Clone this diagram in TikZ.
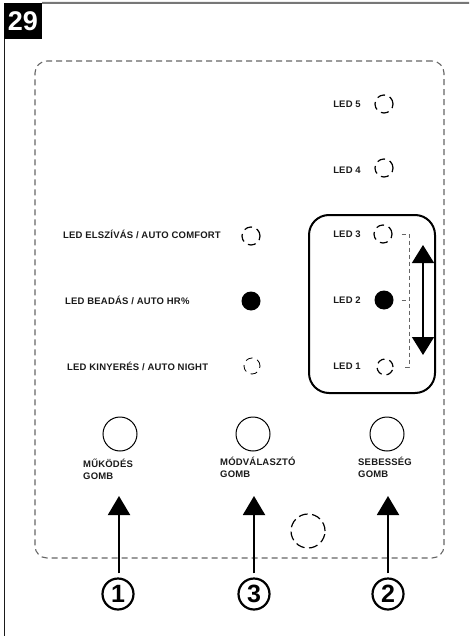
\documentclass[tikz,border=0pt]{standalone}
\usepackage{fontspec}
\setmainfont{Liberation Sans}
\newfontfamily\lblfont{Liberation Sans}[LetterSpace=2]
\usetikzlibrary{arrows.meta}
\definecolor{frameGrey}{HTML}{777777}
\definecolor{dashGrey}{HTML}{666666}
\definecolor{inkGrey}{HTML}{1A1A1A}
\begin{document}
\begin{tikzpicture}[x=1pt,y=-1pt,
  lbl/.style={font=\lblfont\bfseries\fontsize{9.5}{12}\selectfont, inner sep=0pt, text=inkGrey},
  ledoff/.style={draw, circle, line width=1.2pt, dash pattern=on 8pt off 5pt, minimum size=18pt, inner sep=0pt},
  ledthin/.style={draw, circle, line width=0.8pt, dash pattern=on 7pt off 5pt, minimum size=16pt, inner sep=0pt},
  ledon/.style={fill=black, circle, minimum size=19pt, inner sep=0pt},
  button/.style={draw, circle, line width=1pt, minimum size=34pt, inner sep=0pt},
  numcirc/.style={draw, circle, line width=2.2pt, minimum size=31pt, inner sep=0pt, font=\bfseries\fontsize{25}{25}\selectfont},
  uparrow/.style={line width=2pt, -{Triangle[width=22pt,length=19pt]}, shorten <=4pt},
  bracket/.style={dashGrey, line width=0.9pt, dash pattern=on 4pt off 3pt}
]
\useasboundingbox (0,0) rectangle (469,636);

% header
\node[fill=black, minimum width=38pt, minimum height=36pt, inner sep=0pt, text=white,
      font=\bfseries\fontsize{27}{27}\selectfont] (num) at (23,21) {29};
\coordinate (topright) at (469,3);
\coordinate (leftbottom) at (4.5,636);
\draw[frameGrey, line width=2pt] (num.north east) -- (topright);
\draw[inkGrey, line width=1.5pt] (num.south west -| leftbottom) -- (leftbottom);

% dashed panel
\node[draw=dashGrey, dash pattern=on 6pt off 4pt, line width=1.1pt, rounded corners=12pt,
      minimum width=409pt, minimum height=497pt, inner sep=0pt] (panel) at (239.5,309.5) {};

% speed group box
\node[draw, line width=2pt, rounded corners=20pt, minimum width=126pt, minimum height=178pt,
      inner sep=0pt] (group) at (372,304) {};

% LED 5 / LED 4
\node[lbl] (t5) at (347,104) {LED 5};
\node[ledoff] (l5) at (384,104) {};
\node[lbl] (t4) at (347,170) {LED 4};
\node[ledoff] (l4) at (384,168) {};

% LED 3/2/1
\node[lbl] (t3) at (347,234) {LED 3};
\node[ledoff] (l3) at (383,234) {};
\node[lbl] (t2) at (347,300) {LED 2};
\node[ledon] (l2) at (384,300) {};
\node[lbl] (t1) at (347,366) {LED 1};
\node[ledoff, minimum size=16pt] (l1) at (385,367) {};

% bracket
\coordinate (bx) at (409,300);
\draw[bracket] ([xshift=9pt]l3.east) -- (l3.east -| bx) -- (l1.east -| bx) -- ([xshift=9pt]l1.east);
\draw[bracket] ([xshift=8pt]l2.east) -- (l2.east -| bx);

% speed double arrow
\coordinate (dtop) at (423,245);
\coordinate (dbot) at (423,355);
\draw[line width=1.5pt, {Triangle[width=22pt,length=18pt]}-{Triangle[width=22pt,length=18pt]}] (dtop) -- (dbot);

% left column
\node[lbl, anchor=west] (ta) at (63,234) {LED ELSZÍVÁS / AUTO COMFORT};
\node[ledoff] (la) at (251,236) {};
\node[lbl, anchor=west] (tb) at (65,300) {LED BEADÁS / AUTO HR\%};
\node[ledon] (lb) at (251,301) {};
\node[lbl, anchor=west] (tc) at (67,366) {LED KINYERÉS / AUTO NIGHT};
\node[ledthin] (lc) at (252,366) {};

% buttons
\node[button] (b1) at (120,434) {};
\node[button] (b3) at (253,434) {};
\node[button] (b2) at (387,434) {};
\node[lbl, align=left, anchor=north west] (g1) at (83,458.5) {MŰKÖDÉS\\GOMB};
\node[lbl, align=left, anchor=north west] (g3) at (220,456.5) {MÓDVÁLASZTÓ\\GOMB};
\node[lbl, align=left, anchor=north west] (g2) at (358,456.5) {SEBESSÉG\\GOMB};

% sensor
\node[draw, circle, line width=1.2pt, dash pattern=on 9pt off 4.5pt, minimum size=34pt, inner sep=0pt] (sensor) at (308,531) {};

% numbered callouts
\node[numcirc] (c1) at (118,594) {1};
\node[numcirc] (c3) at (254,594) {3};
\node[numcirc] (c2) at (388,594) {2};
\coordinate (a1) at (119,496);
\coordinate (a3) at (254,496);
\coordinate (a2) at (388,496);
\draw[uparrow] (c1.north -| a1) -- (a1);
\draw[uparrow] (c3.north -| a3) -- (a3);
\draw[uparrow] (c2.north -| a2) -- (a2);
\end{tikzpicture}
\end{document}
